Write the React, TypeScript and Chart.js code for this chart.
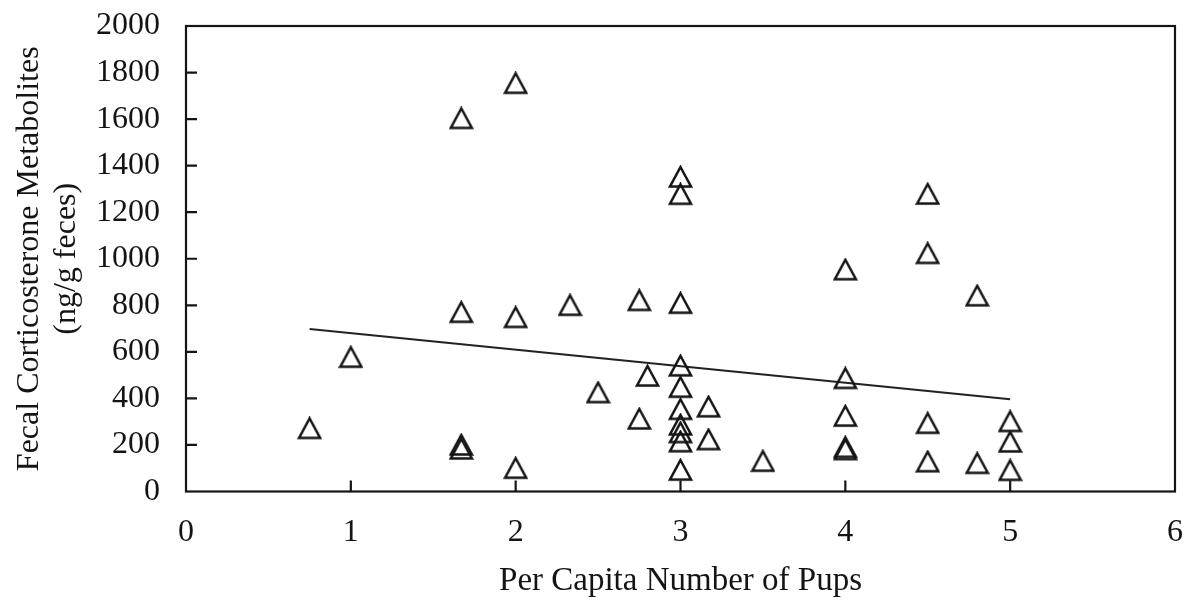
import React, { useEffect, useRef } from 'react';
import { Chart, registerables } from 'chart.js';

Chart.register(...registerables);

// Per capita number of pups for each sample
const pupsPerCapita = [
  0.75, 1, 1.67, 1.67, 1.67, 1.67, 2, 2, 2, 2.33, 2.5, 2.75, 2.75, 2.8,
  3, 3, 3, 3, 3, 3, 3, 3, 3, 3, 3.17, 3.17, 3.5,
  4, 4, 4, 4, 4, 4.5, 4.5, 4.5, 4.5, 4.8, 4.8, 5, 5, 5,
];

// Fecal corticosterone metabolites (ng/g feces) for each sample
const corticosterone = [
  271, 577, 1603, 770, 200, 183, 1754, 748, 100, 800, 425, 821, 312, 496,
  1351, 1277, 809, 540, 448, 353, 286, 253, 214, 92, 364, 223, 130,
  953, 486, 324, 190, 180, 1278, 1023, 293, 128, 841, 121, 301, 213, 91,
];

// Fitted trend line end points
const trendX = [0.75, 5];
const trendY = [698, 396];

const xTickValues = [0, 1, 2, 3, 4, 5, 6];
const yTickValues = [0, 200, 400, 600, 800, 1000, 1200, 1400, 1600, 1800, 2000];

const xTitle = 'Per Capita Number of Pups';
const yTitle = ['Fecal Corticosterone Metabolites', '(ng/g feces)'];

const INK = '#141414';
const FONT_FAMILY = '"Liberation Serif", "Times New Roman", serif';

// Hollow triangle marker, centred on its bounding box
function makeTriangleMarker(): HTMLCanvasElement {
  const c = document.createElement('canvas');
  c.width = 25;
  c.height = 24;
  const g = c.getContext('2d') as CanvasRenderingContext2D;
  g.strokeStyle = INK;
  g.lineWidth = 2.5;
  g.lineJoin = 'miter';
  g.beginPath();
  g.moveTo(12.5, 2);
  g.lineTo(23, 21.5);
  g.lineTo(2, 21.5);
  g.closePath();
  g.stroke();
  return c;
}

// Box frame around the plot area plus inward tick marks
const framePlugin = {
  id: 'frameAndTicks',
  afterDatasetsDraw(chart: any) {
    const { ctx, chartArea, scales } = chart;
    const { left, top, right, bottom } = chartArea;
    ctx.save();
    ctx.strokeStyle = INK;
    ctx.lineWidth = 2.2;
    ctx.strokeRect(left, top, right - left, bottom - top);
    ctx.beginPath();
    scales.y.ticks.forEach((t: any) => {
      const py = scales.y.getPixelForValue(t.value);
      if (t.value === 0 || t.value === 2000) return;
      ctx.moveTo(left, py);
      ctx.lineTo(left + 11, py);
    });
    scales.x.ticks.forEach((t: any) => {
      const px = scales.x.getPixelForValue(t.value);
      if (t.value === 0 || t.value === 6) return;
      ctx.moveTo(px, bottom);
      ctx.lineTo(px, bottom - 11);
    });
    ctx.stroke();
    ctx.restore();
  },
};

export default function App() {
  const canvasRef = useRef<HTMLCanvasElement | null>(null);

  useEffect(() => {
    document.body.style.margin = '0';
    const canvas = canvasRef.current;
    if (!canvas) return;
    const marker = makeTriangleMarker();

    const points = pupsPerCapita.map((x, i) => ({ x, y: corticosterone[i] }));
    const trend = trendX.map((x, i) => ({ x, y: trendY[i] }));

    const chart = new Chart(canvas, {
      type: 'scatter',
      data: {
        datasets: [
          {
            label: 'Samples',
            data: points,
            pointStyle: marker as any,
            pointRadius: 11,
            pointHoverRadius: 11,
            order: 1,
          },
          {
            label: 'Trend',
            data: trend,
            showLine: true,
            borderColor: '#222',
            borderWidth: 2,
            pointRadius: 0,
            pointHoverRadius: 0,
            fill: false,
            order: 2,
          } as any,
        ],
      },
      options: {
        responsive: false,
        animation: false,
        devicePixelRatio: 1,
        layout: { padding: { top: 26, right: 21, left: 0, bottom: 0 } },
        plugins: {
          legend: { display: false },
          tooltip: { enabled: false },
        },
        events: [],
        scales: {
          x: {
            type: 'linear',
            min: 0,
            max: 6,
            afterBuildTicks: (scale: any) => {
              scale.ticks = xTickValues.map((v) => ({ value: v }));
            },
            ticks: {
              color: INK,
              padding: 22,
              font: { family: FONT_FAMILY, size: 32, lineHeight: 1.2 },
              callback: (v: any) => String(v),
              maxRotation: 0,
            },
            grid: { display: false, drawTicks: false },
            border: { display: false },
            title: {
              display: true,
              text: xTitle,
              color: INK,
              font: { family: FONT_FAMILY, size: 33, lineHeight: 1.1 },
              padding: { top: 0, bottom: 6 },
            },
            afterFit: (scale: any) => {
              scale.height = 113.5;
              scale.paddingLeft = 0;
              scale.paddingRight = 0;
            },
          },
          y: {
            type: 'linear',
            min: 0,
            max: 2000,
            afterBuildTicks: (scale: any) => {
              scale.ticks = yTickValues.map((v) => ({ value: v }));
            },
            ticks: {
              color: INK,
              padding: 26,
              font: { family: FONT_FAMILY, size: 32, lineHeight: 1.2 },
              callback: (v: any) => String(v),
            },
            grid: { display: false, drawTicks: false },
            border: { display: false },
            title: {
              display: true,
              text: yTitle,
              color: INK,
              font: { family: FONT_FAMILY, size: 32, lineHeight: 1.13 },
              padding: { top: 12, bottom: 0 },
            },
            afterFit: (scale: any) => {
              scale.width = 186;
              scale.paddingTop = 0;
              scale.paddingBottom = 0;
            },
          },
        },
      },
      plugins: [framePlugin],
    });

    return () => chart.destroy();
  }, []);

  return (
    <div style={{ width: 1196, height: 605, background: '#fff' }}>
      <canvas ref={canvasRef} width={1196} height={605} style={{ display: 'block' }} />
    </div>
  );
}
